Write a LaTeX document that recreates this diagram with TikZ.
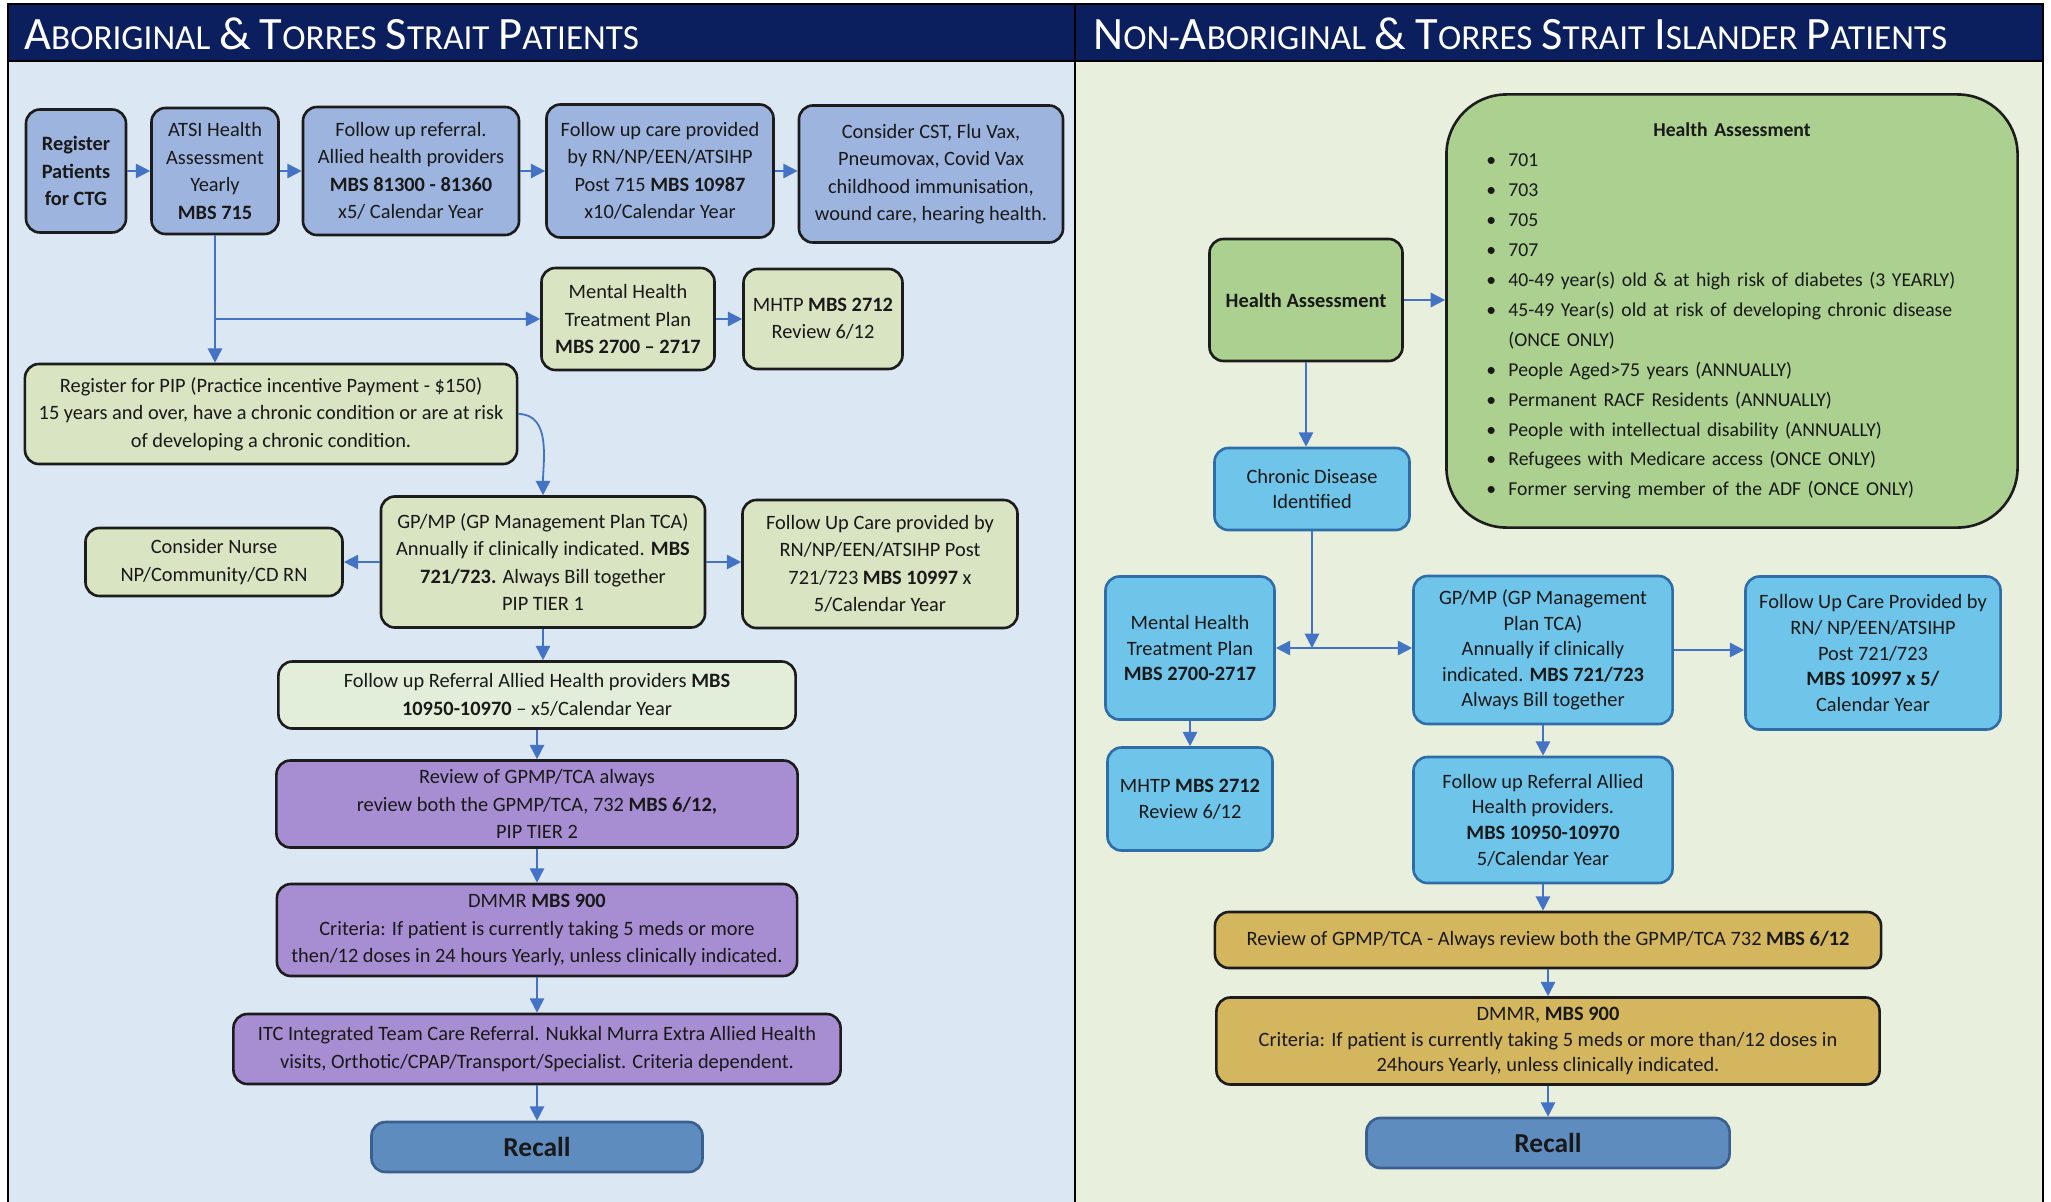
\documentclass[tikz,border=0pt]{standalone}
\usepackage{fontspec}
\setmainfont{Carlito}
\usetikzlibrary{arrows.meta}

\definecolor{navyhead}{HTML}{0B1F5E}
\definecolor{leftbg}{HTML}{DCE7F4}
\definecolor{rightbg}{HTML}{E8F0DD}
\definecolor{periw}{HTML}{9DB4DF}
\definecolor{sage}{HTML}{D8E4C2}
\definecolor{palesage}{HTML}{E3EEDA}
\definecolor{lilac}{HTML}{A78ED2}
\definecolor{recallblue}{HTML}{5F8CBE}
\definecolor{recallline}{HTML}{3A5F8E}
\definecolor{leafgreen}{HTML}{ABD08F}
\definecolor{skycyan}{HTML}{6EC5E9}
\definecolor{skyline}{HTML}{2F6DA8}
\definecolor{mustard}{HTML}{D4B65E}
\definecolor{flowblue}{HTML}{4472C4}
\definecolor{inkline}{HTML}{1C1C1C}

\newcommand{\boxfont}{\fontsize{14.5}{19.5}\selectfont}
\newcommand{\boxfontR}{\fontsize{14.5}{18.2}\selectfont}
\newcommand{\hdbig}[1]{{\fontsize{33}{33}\selectfont #1}}
\newcommand{\hdsml}[1]{{\fontsize{25}{25}\selectfont #1}}
\newcommand{\hbul}{\makebox[5.5mm][l]{\textbullet}}

\tikzset{
  >={Triangle[length=3.6mm,width=3.6mm]},
  wh/.style 2 args={minimum width=#1*0.25mm, minimum height=#2*0.25mm},
  box/.style={draw=inkline, line width=0.65mm, rounded corners=3.5mm,
    align=center, inner sep=0pt, font=\boxfont, text=black!90},
  topbox/.style={box, fill=periw},
  sagebox/.style={box, fill=sage},
  palebox/.style={box, fill=palesage},
  lilacbox/.style={box, fill=lilac},
  leafbox/.style={box, fill=leafgreen},
  cyanbox/.style={box, fill=skycyan, draw=skyline, font=\boxfontR},
  mustbox/.style={box, fill=mustard, font=\boxfontR},
  recallbox/.style={box, fill=recallblue, draw=recallline,
    font=\fontsize{19.5}{22}\selectfont\bfseries},
  headtxt/.style={anchor=west, text=white, inner sep=0pt, font=\fontsize{28}{33}\selectfont},
  flow/.style={draw=flowblue, line width=0.45mm, ->},
  twoway/.style={draw=flowblue, line width=0.45mm, <->}
}

\begin{document}
\begin{tikzpicture}[x=0.025cm,y=-0.025cm]
\useasboundingbox (0,0) rectangle (2051,1202);
% panels
\fill[leftbg] (8,4) rectangle (1075,1202);
\fill[rightbg] (1075,4) rectangle (2043,1202);
\fill[navyhead] (8,4) rectangle (2043,61);
\draw[line width=0.35mm] (8,4) rectangle (1075,1210);
\draw[line width=0.35mm] (1075,4) rectangle (2043,1210);
\draw[line width=0.35mm] (8,61) -- (2043,61);
\node[headtxt] (lefthead) at (24,34)
  {\hdbig{A}\hdsml{BORIGINAL} \hdbig{\&} \hdbig{T}\hdsml{ORRES} \hdbig{S}\hdsml{TRAIT} \hdbig{P}\hdsml{ATIENTS}};
\node[headtxt] (righthead) at (1093,34)
  {\hdbig{N}\hdsml{ON-}\hdbig{A}\hdsml{BORIGINAL} \hdbig{\&} \hdbig{T}\hdsml{ORRES} \hdbig{S}\hdsml{TRAIT} \hdbig{I}\hdsml{SLANDER} \hdbig{P}\hdsml{ATIENTS}};

% left panel
\node[topbox, wh={100}{123}] (reg) at (76,171) {\textbf{Register}\\\textbf{Patients}\\\textbf{for CTG}};
\node[topbox, wh={127}{126}] (atsi) at (215,171) {ATSI Health\\Assessment\\Yearly\\\textbf{MBS 715}};
\node[topbox, wh={216}{128}] (alref) at (411,171) {Follow up referral.\\Allied health providers\\\textbf{MBS 81300 - 81360}\\x5/ Calendar Year};
\node[topbox, wh={227}{133}] (rncare) at (660,171) {Follow up care provided\\by RN/NP/EEN/ATSIHP\\Post 715 \textbf{MBS 10987}\\x10/Calendar Year};
\node[topbox, wh={264}{137}] (extras) at (931,174) {Consider CST, Flu Vax,\\Pneumovax, Covid Vax\\childhood immunisation,\\wound care, hearing health.};
\node[sagebox, wh={173}{102}] (mhtp) at (628,319) {Mental Health\\Treatment Plan\\\textbf{MBS 2700 -- 2717}};
\node[sagebox, wh={159}{100}] (mhtprev) at (823,319) {MHTP \textbf{MBS 2712}\\Review 6/12};
\node[sagebox, wh={492}{100}] (pip) at (271,414) {Register for PIP (Practice incentive Payment - \$150)\\15 years and over, have a chronic condition or are at risk\\of developing a chronic condition.};
\node[sagebox, wh={324}{131}] (gpmp) at (543,562) {GP/MP (GP Management Plan TCA)\\Annually if clinically indicated. \textbf{MBS}\\\textbf{721/723.} Always Bill together\\PIP TIER 1};
\node[sagebox, wh={257}{68}] (nurse) at (214,562) {Consider Nurse\\NP/Community/CD RN};
\node[sagebox, wh={275}{128}] (fucare) at (880,564) {Follow Up Care provided by\\RN/NP/EEN/ATSIHP Post\\721/723 \textbf{MBS 10997} x\\5/Calendar Year};
\node[palebox, wh={517}{67}] (ahref) at (537,695) {Follow up Referral Allied Health providers \textbf{MBS}\\\textbf{10950-10970} -- x5/Calendar Year};
\node[lilacbox, wh={521}{87}] (review) at (537,804) {Review of GPMP/TCA always\\review both the GPMP/TCA, 732 \textbf{MBS 6/12,}\\PIP TIER 2};
\node[lilacbox, wh={520}{92}] (dmmr) at (537,930) {DMMR \textbf{MBS 900}\\Criteria: If patient is currently taking 5 meds or more\\then/12 doses in 24 hours Yearly, unless clinically indicated.};
\node[lilacbox, wh={607}{70}] (itc) at (537,1049) {ITC Integrated Team Care Referral. Nukkal Murra Extra Allied Health\\visits, Orthotic/CPAP/Transport/Specialist. Criteria dependent.};
\node[recallbox, wh={331}{50}] (recall) at (537,1147) {Recall};

\draw[flow] (reg.east) -- (atsi.west);
\draw[flow] (atsi.east) -- (alref.west);
\draw[flow] (alref.east) -- (rncare.west);
\draw[flow] (rncare.east) -- (rncare.east -| extras.west);
\coordinate (split) at (atsi.south |- mhtp.west);
\draw[flow] (atsi.south) -- (atsi.south |- pip.north);
\draw[flow] (split) -- (mhtp.west);
\draw[flow] (mhtp.east) -- (mhtprev.west);
\draw[flow] (pip.east) to[out=0,in=90] (gpmp.north);
\draw[flow] (gpmp.west) -- (nurse.east);
\draw[flow] (gpmp.east) -- (gpmp.east -| fucare.west);
\draw[flow] (gpmp.south) -- (gpmp.south |- ahref.north);
\draw[flow] (ahref.south) -- (review.north);
\draw[flow] (review.south) -- (dmmr.north);
\draw[flow] (dmmr.south) -- (itc.north);
\draw[flow] (itc.south) -- (recall.north);

% right panel
\node[leafbox, wh={193}{122}] (hasmall) at (1306,300) {\textbf{Health Assessment}};
\node[leafbox, wh={571}{433}, rounded corners=15mm, align=left, text width=122.75mm,
  font=\fontsize{14}{21.3}\selectfont] (habig) at (1732,311)
  {\makebox[122.75mm][c]{\textbf{Health Assessment}}\\
   \hbul 701\\
   \hbul 703\\
   \hbul 705\\
   \hbul 707\\
   \hbul 40-49 year(s) old \& at high risk of diabetes (3 YEARLY)\\
   \hbul 45-49 Year(s) old at risk of developing chronic disease\\
   \hspace*{5.5mm}(ONCE ONLY)\\
   \hbul People Aged>75 years (ANNUALLY)\\
   \hbul Permanent RACF Residents (ANNUALLY)\\
   \hbul People with intellectual disability (ANNUALLY)\\
   \hbul Refugees with Medicare access (ONCE ONLY)\\
   \hbul Former serving member of the ADF (ONCE ONLY)};
\node[cyanbox, wh={195}{82}] (chronic) at (1312,489) {Chronic Disease\\Identified};
\node[cyanbox, wh={169}{143}] (mhtpR) at (1190,648) {Mental Health\\Treatment Plan\\\textbf{MBS 2700-2717}};
\node[cyanbox, wh={259}{148}] (gpmpR) at (1543,650) {GP/MP (GP Management\\Plan TCA)\\Annually if clinically\\indicated. \textbf{MBS 721/723}\\Always Bill together};
\node[cyanbox, wh={255}{153}] (fucR) at (1873,653) {Follow Up Care Provided by\\RN/ NP/EEN/ATSIHP\\Post 721/723\\\textbf{MBS 10997 x 5/}\\Calendar Year};
\node[cyanbox, wh={165}{103}] (mhtprevR) at (1190,799) {MHTP \textbf{MBS 2712}\\Review 6/12};
\node[cyanbox, wh={259}{126}] (ahrefR) at (1543,820) {Follow up Referral Allied\\Health providers.\\\textbf{MBS 10950-10970}\\5/Calendar Year};
\node[mustbox, wh={666}{56}] (reviewR) at (1548,940) {Review of GPMP/TCA - Always review both the GPMP/TCA 732 \textbf{MBS 6/12}};
\node[mustbox, wh={663}{87}] (dmmrR) at (1548,1041) {DMMR, \textbf{MBS 900}\\Criteria: If patient is currently taking 5 meds or more than/12 doses in\\24hours Yearly, unless clinically indicated.};
\node[recallbox, wh={363}{50}] (recallR) at (1548,1143) {Recall};

\draw[flow] (hasmall.east) -- (hasmall.east -| habig.west);
\draw[flow] (hasmall.south) -- (hasmall.south |- chronic.north);
\coordinate (cdjoin) at (chronic.south |- mhtpR.east);
\draw[twoway] (mhtpR.east) -- (mhtpR.east -| gpmpR.west);
\draw[flow] (chronic.south) -- (cdjoin);
\draw[flow] (gpmpR.east) -- (gpmpR.east -| fucR.west);
\draw[flow] (mhtpR.south) -- (mhtprevR.north);
\draw[flow] (gpmpR.south) -- (ahrefR.north);
\draw[flow] (ahrefR.south) -- (ahrefR.south |- reviewR.north);
\draw[flow] (reviewR.south) -- (dmmrR.north);
\draw[flow] (dmmrR.south) -- (recallR.north);
\end{tikzpicture}
\end{document}
